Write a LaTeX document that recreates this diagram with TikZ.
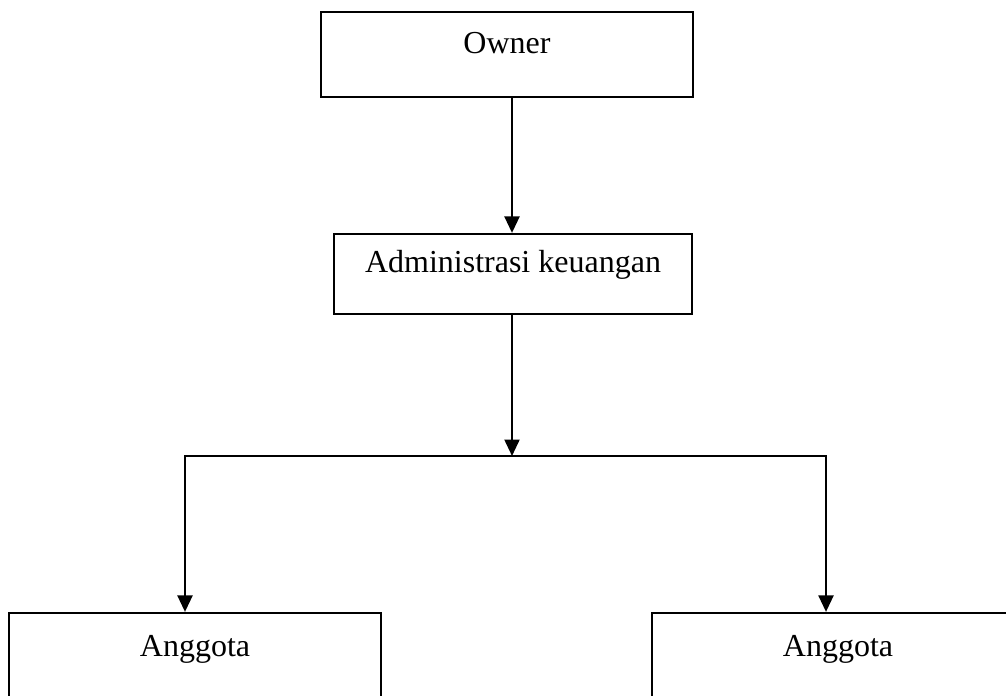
\documentclass[tikz,border=0pt]{standalone}
\usepackage{fontspec}
\setmainfont{Liberation Serif}
\usetikzlibrary{arrows.meta}
\tikzset{
	kotak/.style={draw, line width=0.9pt, minimum width=148.8pt, minimum height=34pt, text height=8pt, text depth=9pt, inner sep=0pt, font=\fontsize{12.8}{15}\selectfont},
	panah/.style={line width=0.9pt, -{Triangle[length=6.6pt, width=6pt]}}
}
\begin{document}
\begin{tikzpicture}[x=0.4pt, y=-0.4pt]
		%%%%% START %%%%%
		\useasboundingbox (0, 0) rectangle (1006, 695);
		
		\node[kotak] (owner) at (507, 54.5) {Owner};
		\node[kotak, minimum width=143.2pt, minimum height=32pt] (admin) at (513, 274) {Administrasi keuangan};
		
		\node[kotak, minimum height=36pt] (anggotakiri) at (195, 658) {Anggota};
		\node[kotak, minimum height=36pt] (anggotakanan) at (838, 658) {Anggota};
		
		\coordinate (cabang) at (512, 456);
		\coordinate (cabangkiri) at (185, 456);
		\coordinate (cabangkanan) at (826, 456);
		
		\draw[panah] ([xshift=2pt]owner.south) -- ([xshift=2pt]owner.south |- admin.north);
		\draw[panah] (admin.south -| cabang) -- (cabang);
		
		\draw[panah] (cabang) -- (cabangkiri) -- (cabangkiri |- anggotakiri.north);
		\draw[panah] (cabang) -- (cabangkanan) -- (cabangkanan |- anggotakanan.north);
		
		%%%%% END %%%%%
	\end{tikzpicture}
\end{document}
